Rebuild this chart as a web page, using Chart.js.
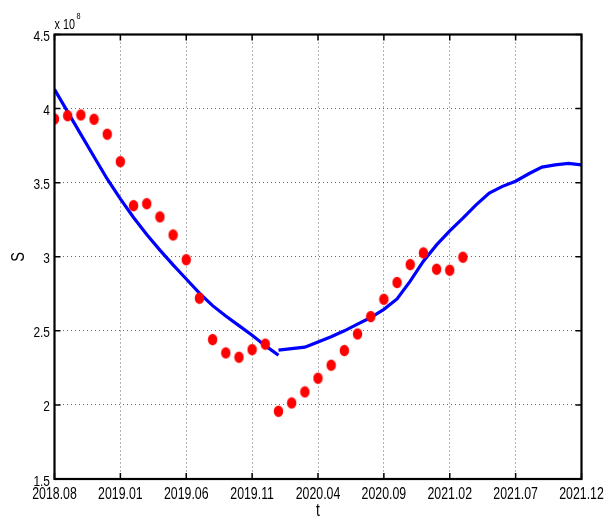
<!DOCTYPE html>
<html>
<head>
<meta charset="utf-8">
<script src="https://cdn.jsdelivr.net/npm/chart.js@4.4.1/dist/chart.umd.min.js"></script>
<style>
  html, body { margin: 0; padding: 0; background: #fff; }
  #wrap { width: 605px; height: 517px; position: relative; }
</style>
</head>
<body>
<div id="wrap"><canvas id="c" width="605" height="517"></canvas></div>
<script>
// Monthly observations of S (units of 1e8), starting 2018.08
const observed = [3.93, 3.952, 3.957, 3.928, 3.827, 3.642, 3.345, 3.358, 3.269, 3.147,
  2.98, 2.72, 2.441, 2.351, 2.322, 2.373, 2.41, 1.957, 2.013, 2.088,
  2.18, 2.268, 2.367, 2.479, 2.596, 2.713, 2.826, 2.947, 3.026, 2.916,
  2.909, 2.997];

// Fitted curve before the break (months 0..17)
const fitBefore = [4.13, 3.978, 3.826, 3.675, 3.525, 3.39, 3.265, 3.15, 3.045, 2.945,
  2.85, 2.755, 2.67, 2.60, 2.535, 2.47, 2.40, 2.335];
const fitBeforeStart = 0;

// Fitted / projected curve after the break (months 17..40)
const fitAfter = [2.37, 2.38, 2.39, 2.425, 2.46, 2.50, 2.545, 2.59, 2.645, 2.715,
  2.835, 2.97, 3.08, 3.175, 3.26, 3.35, 3.43, 3.475, 3.51, 3.56,
  3.605, 3.62, 3.63, 3.62];
const fitAfterStart = 17;

// Axis tick labels and titles
const xTickLabels = ['2018.08', '2019.01', '2019.06', '2019.11', '2020.04',
  '2020.09', '2021.02', '2021.07', '2021.12'];
const yTickLabels = ['1.5', '2', '2.5', '3', '3.5', '4', '4.5'];
const xTitle = 't';
const yTitle = 'S';

const xStep = 5, xMax = 40;
const yMin = 1.5, yMax = 4.5, yStep = 0.5;

const FONT = "'Liberation Sans', Arial, sans-serif";
const SQUEEZE = 0.77;   // condensed lettering

// Elliptical red marker
function makeMarker() {
  const m = document.createElement('canvas');
  m.width = 11; m.height = 13;
  const g = m.getContext('2d');
  g.fillStyle = '#ff0000';
  g.beginPath();
  g.ellipse(5.5, 6.5, 4.7, 5.7, 0, 0, Math.PI * 2);
  g.fill();
  return m;
}

const toPoints = (arr, start) => arr.map((v, i) => ({ x: start + i, y: v }));

// Condensed text helper
function squeezedText(ctx, text, x, y, size, align) {
  ctx.save();
  ctx.font = size + 'px ' + FONT;
  const w = ctx.measureText(text).width * SQUEEZE;
  let x0 = x;
  if (align === 'center') x0 = x - w / 2;
  else if (align === 'right') x0 = x - w;
  ctx.translate(x0, y);
  ctx.scale(SQUEEZE, 1);
  ctx.textAlign = 'left';
  ctx.fillText(text, 0, 0);
  ctx.restore();
  return w;
}

// Draws the axes box, inward ticks, tick labels, titles and exponent note
const boxPlugin = {
  id: 'boxPlugin',
  afterDraw(chart) {
    const { ctx, chartArea: a, scales } = chart;
    const xs = scales.x, ys = scales.y;
    ctx.save();
    ctx.strokeStyle = '#000';
    ctx.lineWidth = 1.5;
    const tl = 6;
    ctx.beginPath();
    xs.ticks.forEach(t => {
      const px = xs.getPixelForValue(t.value);
      ctx.moveTo(px, a.bottom); ctx.lineTo(px, a.bottom - tl);
      ctx.moveTo(px, a.top); ctx.lineTo(px, a.top + tl);
    });
    ys.ticks.forEach(t => {
      const py = ys.getPixelForValue(t.value);
      ctx.moveTo(a.left, py); ctx.lineTo(a.left + tl, py);
      ctx.moveTo(a.right, py); ctx.lineTo(a.right - tl, py);
    });
    ctx.stroke();
    ctx.lineWidth = 2.2;
    ctx.strokeRect(a.left, a.top, a.right - a.left, a.bottom - a.top);

    ctx.fillStyle = '#000';
    ctx.textBaseline = 'alphabetic';

    // tick labels
    xs.ticks.forEach(t => {
      const px = xs.getPixelForValue(t.value);
      squeezedText(ctx, xTickLabels[Math.round(t.value / xStep)], px, a.bottom + 19.5, 16, 'center');
    });
    ys.ticks.forEach(t => {
      const py = ys.getPixelForValue(t.value);
      squeezedText(ctx, yTickLabels[Math.round((t.value - yMin) / yStep)], a.left - 4.5, py + 6.5, 15.5, 'right');
    });

    // axis titles
    squeezedText(ctx, xTitle, (a.left + a.right) / 2, a.bottom + 37, 18, 'center');
    ctx.save();
    ctx.translate(24, (a.top + a.bottom) / 2);
    ctx.rotate(-Math.PI / 2);
    squeezedText(ctx, yTitle, 0, 0, 19, 'center');
    ctx.restore();

    // exponent note
    const w = squeezedText(ctx, 'x 10', a.left, a.top - 5.5, 14, 'left');
    squeezedText(ctx, '8', a.left + w + 1.5, a.top - 15.5, 9.5, 'left');
    ctx.restore();
  }
};

new Chart(document.getElementById('c'), {
  type: 'scatter',
  data: {
    datasets: [
      {
        label: 'observed',
        data: toPoints(observed, 0),
        pointStyle: makeMarker(),
        showLine: false
      },
      {
        label: 'fit before',
        data: toPoints(fitBefore, fitBeforeStart),
        showLine: true,
        borderColor: '#0000ff',
        borderWidth: 3.2,
        pointRadius: 0,
        tension: 0
      },
      {
        label: 'fit after',
        data: toPoints(fitAfter, fitAfterStart),
        showLine: true,
        borderColor: '#0000ff',
        borderWidth: 3.2,
        pointRadius: 0,
        tension: 0
      }
    ]
  },
  options: {
    responsive: false,
    animation: false,
    devicePixelRatio: 1,
    layout: { padding: { top: 34.5, right: 23.5, left: 0, bottom: 0 } },
    plugins: { legend: { display: false }, tooltip: { enabled: false } },
    scales: {
      x: {
        type: 'linear',
        min: 0, max: xMax,
        afterFit(s) { s.height = 38; },
        ticks: { stepSize: xStep, autoSkip: false, display: false },
        grid: { color: 'rgba(0,0,0,0.6)', lineWidth: 1, drawTicks: false },
        border: { display: false, dash: [1, 3] }
      },
      y: {
        type: 'linear',
        min: yMin, max: yMax,
        afterFit(s) { s.width = 54.5; },
        ticks: { stepSize: yStep, display: false },
        grid: { color: 'rgba(0,0,0,0.6)', lineWidth: 1, drawTicks: false },
        border: { display: false, dash: [1, 3] }
      }
    }
  },
  plugins: [boxPlugin]
});
</script>
</body>
</html>
